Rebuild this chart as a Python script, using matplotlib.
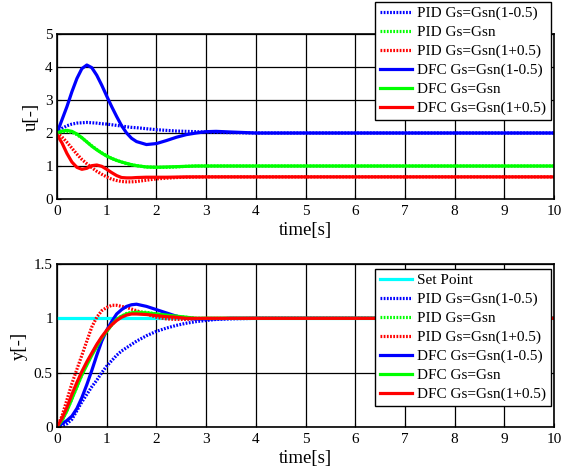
import matplotlib
matplotlib.use("Agg")
import matplotlib.pyplot as plt

plt.rcParams['font.family'] = ['Liberation Serif', 'DejaVu Serif']

# time grid (s)
t = [0, 0.1, 0.2, 0.3, 0.4, 0.5, 0.6, 0.7, 0.8, 0.9, 1.0, 1.1, 1.2, 1.3, 1.4,
     1.5, 1.6, 1.8, 2.0, 2.2, 2.4, 2.6, 2.8, 3.0, 3.2, 3.5, 4.0, 5.0, 6.0, 10.0]

# ---- control signal u ----
u_pid_lo = [2.0, 2.14, 2.22, 2.27, 2.30, 2.31, 2.32, 2.31, 2.30, 2.28, 2.27, 2.25, 2.23, 2.21, 2.19,
            2.17, 2.16, 2.13, 2.10, 2.08, 2.06, 2.05, 2.04, 2.03, 2.02, 2.01, 2.0, 2.0, 2.0, 2.0]
u_pid_n = [2.0, 2.04, 2.05, 2.02, 1.95, 1.85, 1.73, 1.61, 1.50, 1.40, 1.31, 1.23, 1.17, 1.12, 1.07,
           1.04, 1.01, 0.97, 0.96, 0.96, 0.97, 0.99, 1.0, 1.0, 1.0, 1.0, 1.0, 1.0, 1.0, 1.0]
u_pid_hi = [2.0, 1.88, 1.72, 1.54, 1.36, 1.20, 1.07, 0.95, 0.84, 0.75, 0.67, 0.60, 0.56, 0.53, 0.52,
            0.52, 0.53, 0.57, 0.61, 0.63, 0.65, 0.66, 0.665, 0.67, 0.67, 0.67, 0.67, 0.67, 0.67, 0.67]
u_dfc_lo = [2.0, 2.4, 2.8, 3.25, 3.65, 3.95, 4.06, 3.98, 3.75, 3.45, 3.12, 2.8, 2.5, 2.22, 2.0,
            1.84, 1.74, 1.65, 1.68, 1.77, 1.87, 1.95, 2.0, 2.04, 2.05, 2.03, 2.0, 2.0, 2.0, 2.0]
u_dfc_n = [2.0, 2.06, 2.08, 2.05, 1.97, 1.86, 1.73, 1.60, 1.49, 1.39, 1.30, 1.23, 1.17, 1.12, 1.08,
           1.04, 1.01, 0.97, 0.96, 0.97, 0.98, 0.99, 1.0, 1.0, 1.0, 1.0, 1.0, 1.0, 1.0, 1.0]
u_dfc_hi = [1.95, 1.70, 1.38, 1.12, 0.96, 0.90, 0.93, 1.01, 1.03, 0.99, 0.90, 0.80, 0.71, 0.65, 0.64,
            0.64, 0.65, 0.66, 0.66, 0.66, 0.665, 0.67, 0.67, 0.67, 0.67, 0.67, 0.67, 0.67, 0.67, 0.67]

# ---- output y ----
t_sp = [0, 10]
y_sp = [1, 1]
y_pid_lo = [0, 0.01, 0.03, 0.07, 0.15, 0.23, 0.30, 0.37, 0.43, 0.50, 0.56, 0.61, 0.66, 0.70, 0.73,
            0.76, 0.79, 0.84, 0.88, 0.91, 0.935, 0.955, 0.97, 0.98, 0.99, 0.995, 1.0, 1.0, 1.0, 1.0]
y_pid_n = [0, 0.06, 0.15, 0.26, 0.37, 0.48, 0.58, 0.67, 0.75, 0.82, 0.88, 0.94, 0.99, 1.02, 1.045,
           1.055, 1.06, 1.055, 1.04, 1.03, 1.02, 1.01, 1.0, 1.0, 1.0, 1.0, 1.0, 1.0, 1.0, 1.0]
y_pid_hi = [0, 0.10, 0.25, 0.40, 0.53, 0.66, 0.79, 0.92, 1.01, 1.07, 1.10, 1.12, 1.12, 1.11, 1.10,
            1.085, 1.07, 1.04, 1.01, 0.995, 0.99, 0.99, 0.995, 1.0, 1.0, 1.0, 1.0, 1.0, 1.0, 1.0]
y_dfc_lo = [0, 0.03, 0.06, 0.10, 0.17, 0.27, 0.39, 0.52, 0.66, 0.79, 0.89, 0.97, 1.04, 1.08, 1.11,
            1.125, 1.13, 1.11, 1.08, 1.05, 1.02, 1.0, 0.995, 0.993, 0.995, 1.0, 1.0, 1.0, 1.0, 1.0]
y_dfc_n = [0, 0.06, 0.15, 0.26, 0.37, 0.48, 0.57, 0.66, 0.74, 0.82, 0.88, 0.94, 0.99, 1.02, 1.04,
           1.05, 1.055, 1.05, 1.04, 1.03, 1.02, 1.01, 1.0, 1.0, 1.0, 1.0, 1.0, 1.0, 1.0, 1.0]
y_dfc_hi = [0, 0.08, 0.18, 0.30, 0.41, 0.51, 0.60, 0.68, 0.76, 0.83, 0.89, 0.94, 0.98, 1.01, 1.03,
            1.04, 1.04, 1.035, 1.025, 1.015, 1.01, 1.0, 1.0, 1.0, 1.0, 1.0, 1.0, 1.0, 1.0, 1.0]

labels_pid = ['PID Gs=Gsn(1-0.5)', 'PID Gs=Gsn', 'PID Gs=Gsn(1+0.5)']
labels_dfc = ['DFC Gs=Gsn(1-0.5)', 'DFC Gs=Gsn', 'DFC Gs=Gsn(1+0.5)']
colors = ['#0000ff', '#00ff00', '#ff0000']

W, H = 571, 472
fig = plt.figure(figsize=(W / 100, H / 100), dpi=100)

def frac(l, tp, r, b):
    return [l / W, 1 - b / H, (r - l) / W, (b - tp) / H]

ax1 = fig.add_axes(frac(57, 34, 554, 199))
ax2 = fig.add_axes(frac(57, 264, 554, 427))

dot = (0, (0.55, 0.45))
lw = 2.3

for ax, pids, dfcs in [(ax1, [u_pid_lo, u_pid_n, u_pid_hi], [u_dfc_lo, u_dfc_n, u_dfc_hi]),
                       (ax2, [y_pid_lo, y_pid_n, y_pid_hi], [y_dfc_lo, y_dfc_n, y_dfc_hi])]:
    if ax is ax2:
        ax.plot(t_sp, y_sp, color='#00ffff', lw=lw, label='Set Point')
    for v, c, lab in zip(pids, colors, labels_pid):
        ax.plot(t, v, color=c, lw=lw, linestyle=dot, label=lab)
    for v, c, lab in zip(dfcs, colors, labels_dfc):
        ax.plot(t, v, color=c, lw=lw, label=lab)
    ax.set_xlim(0, 10)
    ax.set_xticks(range(0, 11))
    ax.grid(True, color='black', lw=0.9, linestyle='-')
    ax.set_axisbelow(True)
    ax.tick_params(direction='in', length=3, labelsize=11, width=0.8)
    ax.tick_params(axis='x', pad=4)
    ax.tick_params(axis='y', pad=3)
    for s in ax.spines.values():
        s.set_linewidth(1.2)
    ax.set_xlabel('time[s]', fontsize=13.5, labelpad=3)

ax1.set_ylim(0, 5)
ax1.set_yticks([0, 1, 2, 3, 4, 5])
ax1.set_ylabel('u[-]', fontsize=13.5, labelpad=4)

ax2.set_ylim(0, 1.5)
ax2.set_yticks([0, 0.5, 1, 1.5])
ax2.set_yticklabels(['0', '0.5', '1', '1.5'])
ax2.set_ylabel('y[-]', fontsize=13.5, labelpad=4)

leg_kw = dict(loc='upper right', bbox_transform=fig.transFigure, fancybox=False,
              edgecolor='black', framealpha=1, fontsize=11, handlelength=2.1,
              handletextpad=0.35, labelspacing=0.34, borderpad=0.3, borderaxespad=0)
l1 = ax1.legend(bbox_to_anchor=(551 / W, 1 - 2 / H), **leg_kw)
l2 = ax2.legend(bbox_to_anchor=(551 / W, 1 - 269 / H), **leg_kw)
for l in (l1, l2):
    l.get_frame().set_linewidth(1.0)
    l.set_zorder(10)

fig.savefig('out.png', dpi=100)
